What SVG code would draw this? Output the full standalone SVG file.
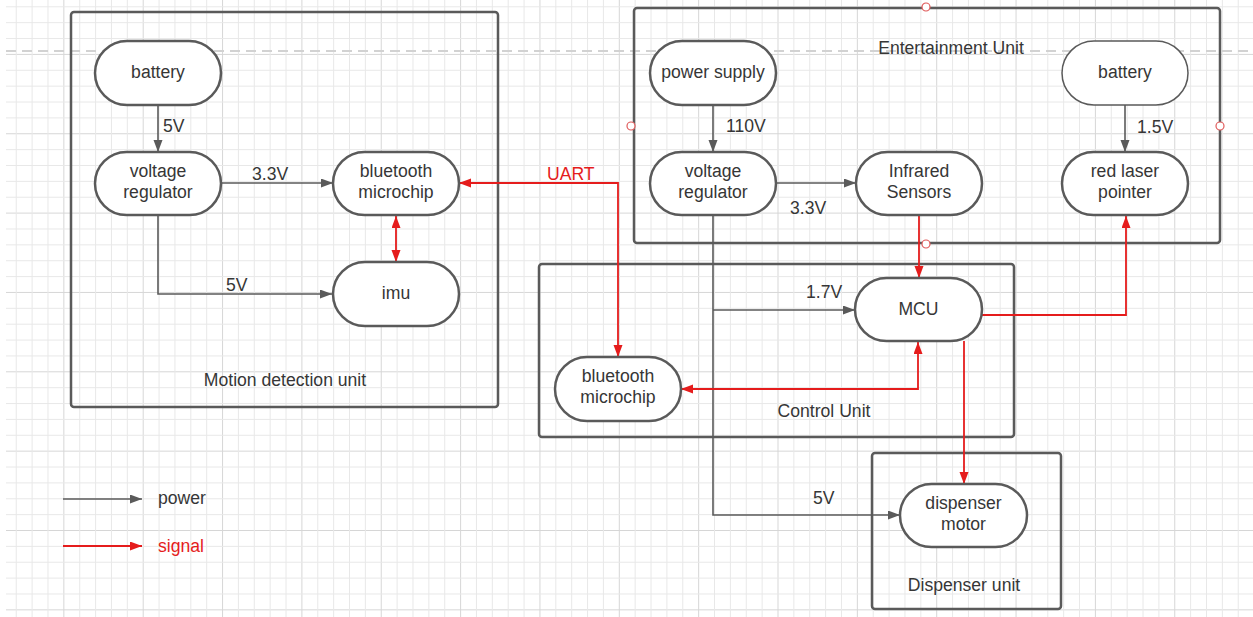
<svg xmlns="http://www.w3.org/2000/svg" width="1253" height="617" viewBox="0 0 1253 617">
<style>
text{font-family:"Liberation Sans",Arial,sans-serif;font-size:17.6px;fill:#363636}
.c{text-anchor:middle}
.red{fill:#e51c1c}
.node{fill:#fff;stroke:#5a5a5a;stroke-width:2.5}
.unit{fill:none;stroke:#5a5a5a;stroke-width:2.5}
.pw{fill:none;stroke:#5a5a5a;stroke-width:1.6;marker-end:url(#ag)}
.sg{fill:none;stroke:#e51c1c;stroke-width:1.8;marker-end:url(#ar)}
.both{marker-start:url(#ar)}
.h{fill:#fff;stroke:#e05a5a;stroke-width:1.2}
</style>
<defs>
<pattern id="grid" patternUnits="userSpaceOnUse" x="63.35" y="53.9" width="79.35" height="79.35">
<rect x="0" y="0" width="1" height="79.35" fill="#d6d6d6"/>
<rect x="0" y="0" width="79.35" height="1" fill="#d6d6d6"/>
<rect x="15.87" y="0" width="1" height="79.35" fill="#e8e8e8"/>
<rect x="31.74" y="0" width="1" height="79.35" fill="#e8e8e8"/>
<rect x="47.61" y="0" width="1" height="79.35" fill="#e8e8e8"/>
<rect x="63.48" y="0" width="1" height="79.35" fill="#e8e8e8"/>
<rect x="0" y="15.87" width="79.35" height="1" fill="#e8e8e8"/>
<rect x="0" y="31.74" width="79.35" height="1" fill="#e8e8e8"/>
<rect x="0" y="47.61" width="79.35" height="1" fill="#e8e8e8"/>
<rect x="0" y="63.48" width="79.35" height="1" fill="#e8e8e8"/>
</pattern>
<marker id="ag" markerUnits="userSpaceOnUse" markerWidth="13" markerHeight="10" refX="12" refY="4.5" orient="auto-start-reverse"><path d="M0,0 L12,4.5 L0,9 z" fill="#5a5a5a"/></marker>
<marker id="ar" markerUnits="userSpaceOnUse" markerWidth="13" markerHeight="10" refX="12" refY="4.5" orient="auto-start-reverse"><path d="M0,0 L12,4.5 L0,9 z" fill="#e51c1c"/></marker>
</defs>
<rect width="1253" height="617" fill="#fff"/>
<rect x="6" y="0" width="1247" height="617" fill="url(#grid)"/>
<line x1="6" y1="51" x2="1253" y2="51" stroke="#d2d2d2" stroke-width="2" stroke-dasharray="10,6"/>

<g id="units">
<g id="motion-unit"><rect class="unit" x="71" y="12" width="427" height="395" rx="3"/><text class="c" x="285" y="386">Motion detection unit</text></g>
<g id="entertainment-unit"><rect class="unit" x="634" y="8" width="586" height="235" rx="3"/><text class="c" x="951" y="54">Entertainment Unit</text>
<circle class="h" cx="926" cy="7" r="4"/><circle class="h" cx="631" cy="126" r="4"/><circle class="h" cx="1220" cy="126" r="4"/><circle class="h" cx="926" cy="244" r="4"/></g>
<g id="control-unit"><rect class="unit" x="539" y="264" width="475" height="173" rx="3"/><text class="c" x="824" y="417">Control Unit</text></g>
<g id="dispenser-unit"><rect class="unit" x="872" y="453" width="189" height="156" rx="3"/><text class="c" x="964" y="591">Dispenser unit</text></g>
</g>

<g id="connectors">
<path class="pw" d="M158,105 V152"/>
<text x="163" y="132">5V</text>
<path class="pw" d="M221,183 H333"/>
<text x="252" y="180">3.3V</text>
<path class="pw" d="M158,215 V294 H332"/>
<text x="226" y="291">5V</text>
<path class="sg both" d="M396,216 V262"/>
<path class="sg both" d="M459,183 H618 V357"/>
<text class="red" x="547" y="180">UART</text>
<path class="pw" d="M713,105 V152"/>
<text x="726" y="132">110V</text>
<path class="pw" d="M776,183 H856"/>
<text x="790" y="214">3.3V</text>
<path class="pw" d="M1125,105 V152"/>
<text x="1137" y="133">1.5V</text>
<path class="sg" d="M919,215 V278"/>
<path class="sg" d="M982,315 H1126 V216"/>
<path class="pw" d="M713,215 V515 H900"/>
<path class="pw" d="M713,310 H855"/>
<text x="806" y="298">1.7V</text>
<text x="813" y="504">5V</text>
<path class="sg both" d="M918,342 V389 H681"/>
<path class="sg" d="M964,341 V484"/>
</g>

<g id="n-battery1"><rect class="node" x="95" y="41" width="126" height="64" rx="32"/><text class="c" x="158" y="78">battery</text></g>
<g id="n-vreg1"><rect class="node" x="95" y="152" width="126" height="63" rx="31.5"/><text class="c" x="158" y="177">voltage</text><text class="c" x="158" y="198">regulator</text></g>
<g id="n-bt1"><rect class="node" x="333" y="152" width="126" height="63" rx="31.5"/><text class="c" x="396" y="177">bluetooth</text><text class="c" x="396" y="198">microchip</text></g>
<g id="n-imu"><rect class="node" x="333" y="262" width="126" height="64" rx="32"/><text class="c" x="396" y="299">imu</text></g>

<g id="n-psu"><rect class="node" x="650" y="41" width="126" height="64" rx="32"/><text class="c" x="713" y="78">power supply</text></g>
<g id="n-vreg2"><rect class="node" x="650" y="152" width="126" height="63" rx="31.5"/><text class="c" x="713" y="177">voltage</text><text class="c" x="713" y="198">regulator</text></g>
<g id="n-ir"><rect class="node" x="856" y="152" width="126" height="63" rx="31.5"/><text class="c" x="919" y="177">Infrared</text><text class="c" x="919" y="198">Sensors</text></g>
<g id="n-battery2"><rect class="node" x="1062" y="41" width="126" height="64" rx="32" style="stroke-width:1.5"/><text class="c" x="1125" y="78">battery</text></g>
<g id="n-laser"><rect class="node" x="1062" y="152" width="126" height="63" rx="31.5"/><text class="c" x="1125" y="177">red laser</text><text class="c" x="1125" y="198">pointer</text></g>

<g id="n-mcu"><rect class="node" x="855" y="278" width="127" height="63" rx="31.5"/><text class="c" x="918.5" y="315">MCU</text></g>
<g id="n-bt2"><rect class="node" x="555" y="357" width="126" height="64" rx="32"/><text class="c" x="618" y="382">bluetooth</text><text class="c" x="618" y="403">microchip</text></g>
<g id="n-motor"><rect class="node" x="900" y="484" width="127" height="63" rx="31.5"/><text class="c" x="963.5" y="509">dispenser</text><text class="c" x="963.5" y="530">motor</text></g>

<g id="legend">
<path class="pw" d="M63,499 H142"/>
<text x="158" y="504">power</text>
<path class="sg" d="M63,546 H142"/>
<text class="red" x="158" y="552">signal</text>
</g>
</svg>
